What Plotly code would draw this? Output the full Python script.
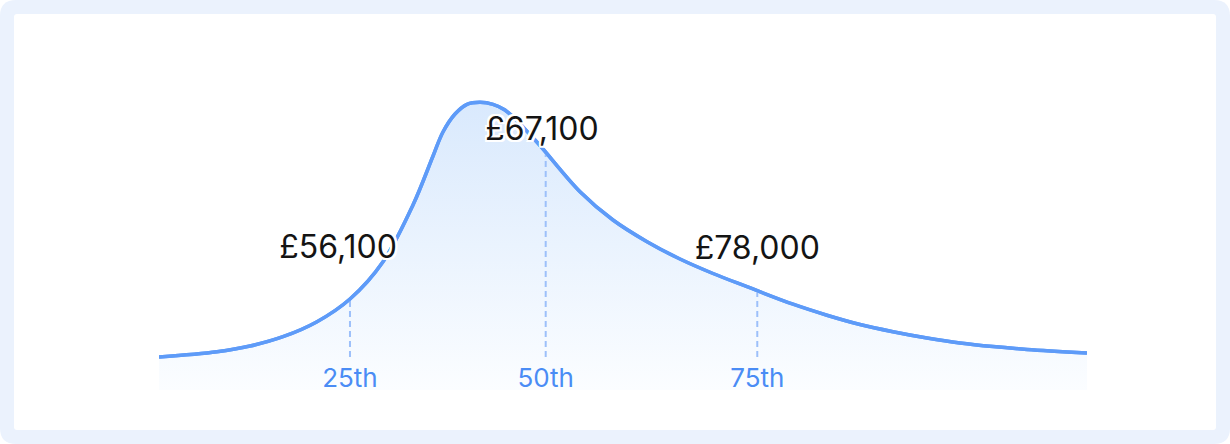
import numpy as np
import plotly.graph_objects as go

# ---- data ----
curve_px = [159, 217, 250, 283, 317, 350, 383, 413, 433, 443, 455, 467, 480, 493,
            505, 535, 580, 613, 647, 680, 713, 747, 793, 827, 860, 893, 927, 960,
            993, 1027, 1087]
curve_y = [33, 38.3, 44, 53.3, 68.3, 91, 128.3, 185, 234, 258, 276, 285.7, 287.7, 285.7,
           280, 250, 198.3, 170, 148.3, 131, 116.5, 103.3, 85.8, 74.8, 65.5, 58.3, 52, 47,
           43.4, 40.6, 37]
# horizontal positions expressed as % of the distribution axis
curve_x = [round((p - 159) / 9.28, 2) for p in curve_px]

percentile_labels = ["25th", "50th", "75th"]
percentile_x = [20.58, 41.67, 64.47]
salary_labels = ["£56,100", "£67,100", "£78,000"]
salary_label_x = [19.29, 41.27, 64.47]
salary_label_y = [140, 258.5, 139.5]
marker_base_y = 33
percentile_label_y = 10

# ---- layout geometry (pixels) ----
W, H = 1230, 444
ML, MR, MT, MB = 159, 143, 90, 54
PW, PH = W - ML - MR, H - MT - MB


def to_paper(px, py):
    return (px - ML) / PW, (H - MB - py) / PH


def rounded_rect(x0, y0, x1, y1, r):
    def P(x, y):
        a, b = to_paper(x, y)
        return f"{a:.5f},{b:.5f}"
    return (f"M {P(x0 + r, y0)} L {P(x1 - r, y0)} Q {P(x1, y0)} {P(x1, y0 + r)} "
            f"L {P(x1, y1 - r)} Q {P(x1, y1)} {P(x1 - r, y1)} "
            f"L {P(x0 + r, y1)} Q {P(x0, y1)} {P(x0, y1 - r)} "
            f"L {P(x0, y0 + r)} Q {P(x0, y0)} {P(x0 + r, y0)} Z")


LINE = "#5E9BF8"
fig = go.Figure()

# filled distribution curve
fig.add_trace(go.Scatter(
    x=curve_x, y=curve_y, mode="lines",
    line=dict(color=LINE, width=3.5, shape="spline", smoothing=1.0),
    fill="tozeroy",
    fillgradient=dict(type="vertical",
                      colorscale=[[0, "#FBFDFF"], [1, "#D9E9FD"]],
                      start=0, stop=290),
    hoverinfo="skip", showlegend=False,
))

# dashed percentile lines
top_y = np.interp(percentile_x, curve_x, curve_y) - 2
lx, ly = [], []
for px_, ty in zip(percentile_x, top_y):
    lx += [px_, px_, None]
    ly += [marker_base_y, ty, None]
fig.add_trace(go.Scatter(
    x=lx, y=ly, mode="lines",
    line=dict(color="#9DC0FA", width=2, dash="6px,4px"),
    hoverinfo="skip", showlegend=False,
))

# curve line again, above the dashes
fig.add_trace(go.Scatter(
    x=curve_x, y=curve_y, mode="lines",
    line=dict(color=LINE, width=3.5, shape="spline", smoothing=1.0),
    hoverinfo="skip", showlegend=False,
))

# percentile labels
fig.add_trace(go.Scatter(
    x=percentile_x, y=[percentile_label_y] * len(percentile_x), mode="text",
    text=percentile_labels, textposition="middle center",
    textfont=dict(family="Inter", size=26, color="#4A8CF5"),
    hoverinfo="skip", showlegend=False,
))

# salary labels with white halo
halo = ("-2px -2px 0 #fff, 2px -2px 0 #fff, -2px 2px 0 #fff, 2px 2px 0 #fff, "
        "0 2px 0 #fff, 0 -2px 0 #fff, 2px 0 0 #fff, -2px 0 0 #fff")
fig.add_trace(go.Scatter(
    x=salary_label_x, y=salary_label_y, mode="text",
    text=salary_labels, textposition="middle center",
    textfont=dict(family="Inter", size=32, color="#141414", shadow=halo),
    hoverinfo="skip", showlegend=False,
))

# frame decoration
shapes = [
    dict(type="path", xref="paper", yref="paper", layer="below",
         path=rounded_rect(0, 0, W, H, 16), fillcolor="#EBF2FD", line=dict(width=0)),
    dict(type="path", xref="paper", yref="paper", layer="below",
         path=rounded_rect(14, 14, W - 14, H - 14, 3), fillcolor="#FFFFFF", line=dict(width=0)),
]

fig.update_layout(
    width=W, height=H,
    margin=dict(l=ML, r=MR, t=MT, b=MB, pad=0),
    paper_bgcolor="#FFFFFF", plot_bgcolor="rgba(0,0,0,0)",
    xaxis=dict(range=[0, 100], visible=False, fixedrange=True),
    yaxis=dict(range=[0, 300], visible=False, fixedrange=True),
    shapes=shapes,
    showlegend=False,
)

fig.write_html("out.html", config={"displayModeBar": False},
               post_script="document.body.style.margin='0';document.body.style.overflow='hidden';")
